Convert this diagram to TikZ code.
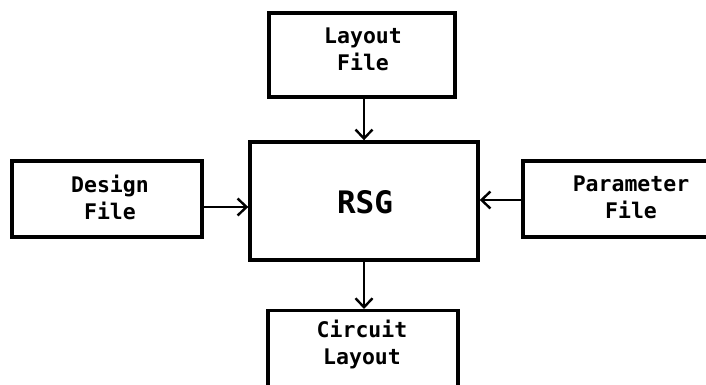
\documentclass[tikz,border=0pt]{standalone}
\usepackage{fontspec}
\newfontfamily\labelfont{DejaVu Sans Mono}
\usetikzlibrary{arrows.meta}
\tikzset{
  box/.style={draw=black, line width=3.4pt, fill=white, rectangle, inner sep=0pt},
  lbl/.style={font=\labelfont\bfseries\fontsize{21.5}{27}\selectfont, align=center, inner sep=0pt},
  big/.style={font=\labelfont\bfseries\fontsize{31}{34}\selectfont, inner sep=0pt},
  arr/.style={line width=2.6pt, -{Straight Barb[length=9pt,width=17pt,line width=2.4pt]}}
}
\begin{document}
\begin{tikzpicture}[x=1pt,y=-1pt]
\useasboundingbox[fill=white] (0,0) rectangle (706,385);
\begin{scope}
\clip (0,0) rectangle (706,385);
% boxes
\node[box, minimum width=186pt, minimum height=84pt] (lay) at (362,55) {};
\node[lbl] (layt) at (363,49) {Layout\\File};
\node[box, minimum width=228pt, minimum height=118pt] (rsg) at (364,201) {};
\node[big] (rsgt) at (365,202) {RSG};
\node[box, minimum width=190pt, minimum height=76pt] (des) at (107,199) {};
\node[lbl] (dest) at (110,197) {Design\\File};
\node[box, minimum width=216pt, minimum height=76pt] (par) at (631,199) {};
\node[lbl] (part) at (631,197) {Parameter\\File};
\node[box, minimum width=190pt, minimum height=110pt, anchor=north] (cir) at (363,309) {};
\node[lbl] (cirt) at (362,344) {Circuit\\Layout};
\end{scope}
% connectors
\coordinate (vx) at (364,0);
\coordinate (ld) at (0,207);
\coordinate (rp) at (0,200);
\draw[arr] (lay.south -| vx) -- (rsg.north -| vx);
\draw[arr] (des.east |- ld) -- (rsg.west |- ld);
\draw[arr] (par.west |- rp) -- (rsg.east |- rp);
\draw[arr] (rsg.south -| vx) -- (cir.north -| vx);
\end{tikzpicture}
\end{document}
